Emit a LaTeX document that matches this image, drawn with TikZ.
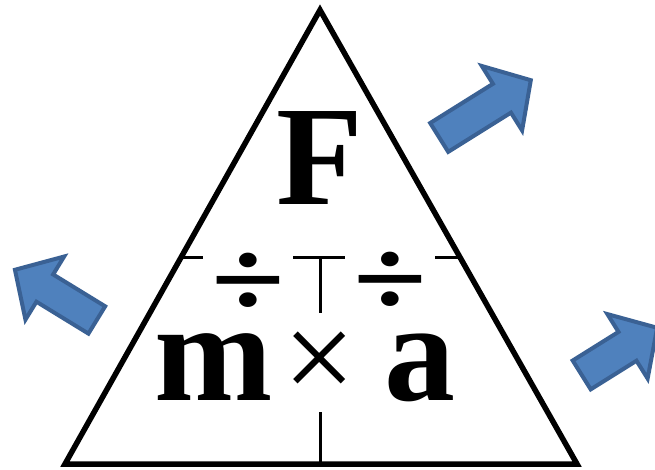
\documentclass[tikz,border=0pt]{standalone}
\usepackage{fontspec}
\setmainfont{Liberation Serif}
\usetikzlibrary{calc}
\definecolor{arrowfill}{HTML}{4F81BD}
\definecolor{arrowline}{HTML}{3A6194}

\begin{document}
\begin{tikzpicture}[x=1pt, y=-1pt,
	blockarrow/.style={fill=arrowfill, draw=arrowline, line width=4pt, line join=miter},
	letter/.style={inner sep=0pt, font=\fontsize{142}{142}\selectfont\bfseries},
	divsign/.style={fill=white, inner xsep=7pt, inner ysep=0pt, xscale=1.2, transform shape, font=\fontsize{112}{112}\selectfont\bfseries}]
	\clip (0,0) rectangle (655,470);
	\fill [white] (0,0) rectangle (655,470);
	% triangle
	\coordinate (apex) at (320,10);
	\coordinate (bl) at (65,464);
	\coordinate (br) at (577,464);
	\draw [line width=5.5pt, line join=miter] (apex) -- (br) -- (bl) -- cycle;
	\draw [line width=3pt] ($(apex)!0.546!(bl)$) -- ($(apex)!0.546!(br)$);
	\node [divsign] (divl) at (248,285) {÷};
	\node [divsign] (divr) at (390,284) {÷};
	\coordinate (ttop) at (320,259);
	\coordinate (tbot) at (320,313);
	\draw [line width=3pt] (ttop) -- (tbot);
	\coordinate (stem) at (320,412);
	\draw [line width=3pt] (stem) -- (stem |- bl);
	% letters
	\node [letter, anchor=base] (force) at (320,205) {F};
	\node [letter, anchor=base] (mass) at (214,400) {m};
	\node [letter, anchor=base] (accel) at (420,400) {a};
	\node [inner sep=0pt, font=\fontsize{128}{128}\selectfont] (times) at (320,366) {×};
	% arrows
	\draw [blockarrow, shift={(437.5,138.5)}, rotate=32] (2,-17) -- (76,-17) -- (76,-38) -- (110,0) -- (76,38) -- (76,17) -- (2,17) -- cycle;
	\draw [blockarrow, shift={(98.5,321)}, rotate=148.5] (2,-16) -- (63,-16) -- (63,-37) -- (98,0) -- (63,37) -- (63,16) -- (2,16) -- cycle;
	\draw [blockarrow, shift={(580,376)}, rotate=32] (2,-17) -- (56,-17) -- (56,-38) -- (91,0) -- (56,38) -- (56,17) -- (2,17) -- cycle;
\end{tikzpicture}
\end{document}
